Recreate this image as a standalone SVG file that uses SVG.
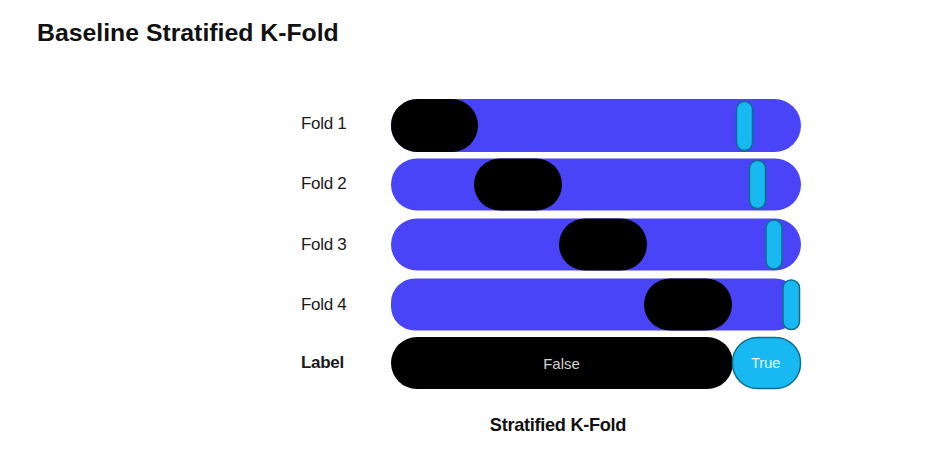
<svg xmlns="http://www.w3.org/2000/svg" width="937" height="468" viewBox="0 0 937 468">
<style>
.lbl{font-family:"Liberation Sans",Arial,sans-serif;font-size:17px;fill:#1a1a1a;letter-spacing:-0.3px}
.bold{font-weight:bold}
.bar{fill:#4944f8}
.blk{fill:#000}
.mk{fill:#18b9f2;stroke:#0b6f8c;stroke-width:1.5}
.in{font-family:"Liberation Sans",Arial,sans-serif;font-size:15px;text-anchor:middle}
</style>
<rect width="937" height="468" fill="#fff"/>
<text x="37" y="41" font-family="'Liberation Sans',Arial,sans-serif" font-size="24.8" font-weight="bold" fill="#111">Baseline Stratified K-Fold</text>

<g id="fold1">
<text class="lbl" x="301" y="129">Fold 1</text>
<rect class="bar" x="391" y="99" width="410" height="53" rx="26.5"/>
<rect class="blk" x="391" y="99" width="87" height="53" rx="26.5"/>
<rect class="mk" x="736.5" y="101.5" width="16" height="49" rx="8"/>
</g>
<g id="fold2">
<text class="lbl" x="301" y="189">Fold 2</text>
<rect class="bar" x="391" y="158.5" width="410" height="52" rx="26"/>
<rect class="blk" x="474" y="158.5" width="88" height="52" rx="26"/>
<rect class="mk" x="749.5" y="160.5" width="16" height="48" rx="8"/>
</g>
<g id="fold3">
<text class="lbl" x="301" y="250">Fold 3</text>
<rect class="bar" x="391" y="218.5" width="410" height="52" rx="26"/>
<rect class="blk" x="559" y="218.5" width="88" height="52" rx="26"/>
<rect class="mk" x="766" y="220" width="16" height="49" rx="8"/>
</g>
<g id="fold4">
<text class="lbl" x="301" y="310">Fold 4</text>
<rect class="bar" x="391" y="278.5" width="408" height="52" rx="24"/>
<rect class="blk" x="644" y="278.5" width="88" height="52" rx="26"/>
<rect class="mk" x="783" y="280" width="16.5" height="49.5" rx="8"/>
</g>
<g id="label">
<text class="lbl bold" x="301" y="368" font-size="17.8" letter-spacing="0">Label</text>
<rect class="blk" x="391" y="337" width="342" height="52" rx="26"/>
<rect x="732.5" y="337.5" width="68" height="51" rx="25" fill="#18b9f2" stroke="#0b6f8c" stroke-width="1.5"/>
<text class="in" x="561.5" y="369" fill="#d2d2d2">False</text>
<text class="in" x="765.5" y="368" fill="#dff3fc" font-size="14.5" letter-spacing="-0.3">True</text>
</g>
<text x="558" y="431" text-anchor="middle" font-family="'Liberation Sans',Arial,sans-serif" font-size="18.2" font-weight="bold" fill="#111" letter-spacing="-0.3">Stratified K-Fold</text>
</svg>
